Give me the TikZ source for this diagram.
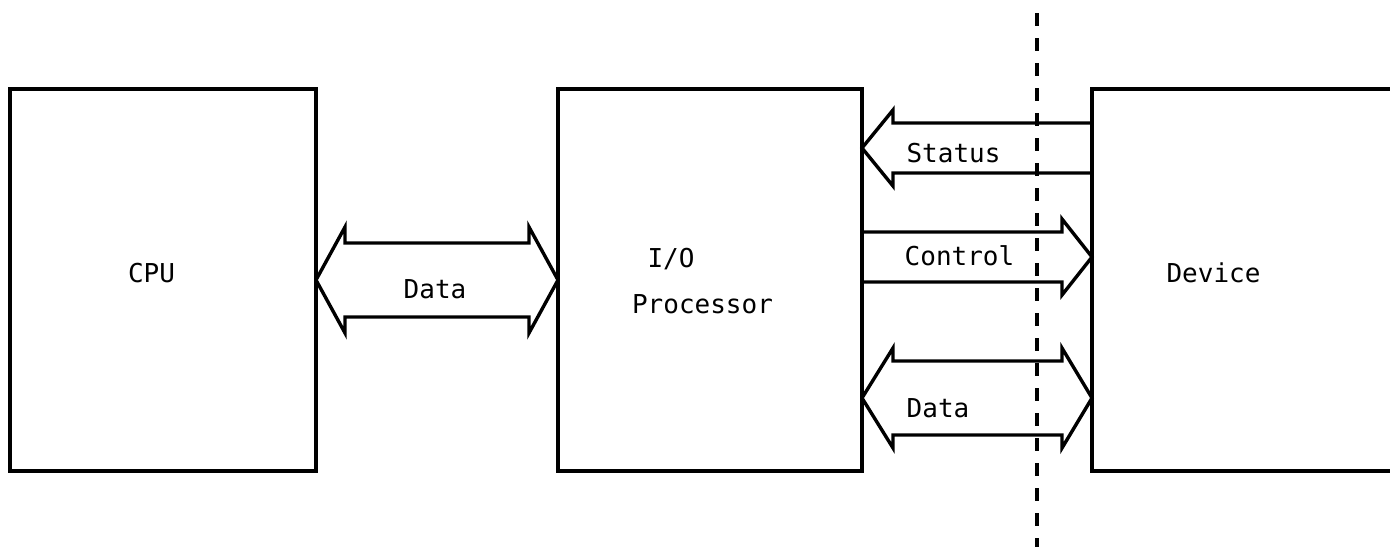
\documentclass[tikz,border=0pt]{standalone}
\usepackage{fontspec}
\newfontfamily\plotfont{DejaVu Sans Mono}
\usetikzlibrary{positioning,calc}

\begin{document}
\begin{tikzpicture}[
    x=0.5pt, y=-0.5pt,
    box/.style={rectangle, draw, line width=1.9pt, minimum height=191pt,
                inner sep=0pt, outer sep=0pt},
    bus/.style={draw, line width=1.7pt, line join=miter},
    lbl/.style={anchor=base, inner sep=0pt,
                font=\plotfont\fontsize{13}{15}\selectfont},
    border/.style={line width=1.9pt, dash pattern=on 6.5pt off 6pt},
]
\useasboundingbox (0,0) rectangle (1390,547);
\clip (0,0) rectangle (1390,547);

\node[box, minimum width=153pt] (cpu) at (163,280) {};
\node[box, minimum width=152pt, right=121pt of cpu] (iop) {};
\node[box, minimum width=164pt, right=115pt of iop] (dev) {};

\node[lbl] (cpulbl) at (151.5,282) {CPU};
\node[lbl] (iolbl) at (671,267) {I/O};
\node[lbl] (proclbl) at (702.5,313) {Processor};
\node[lbl] (devlbl) at (1213.5,282) {Device};

% data bus between cpu and i/o processor
\draw[bus] (cpu.east) -- ++(29,-53) |- ($(iop.west)+(-29,-37)$) -- ++(0,-16)
    -- (iop.west) -- ++(-29,53) |- ($(cpu.east)+(29,37)$) -- ++(0,16) -- cycle;
\node[lbl] (datalbl) at (435,298) {Data};

% status, control and data lines to the device
\coordinate (st) at ($(iop.east)+(0,-132)$);
\coordinate (ct) at ($(dev.west)+(0,-23)$);
\coordinate (dl) at ($(iop.east)+(0,118)$);
\coordinate (dr) at (dl -| dev.west);

\draw[bus] ($(st -| dev.west)+(0,-25)$) -| ($(st)+(31,-38)$) -- (st)
    -- ($(st)+(31,38)$) |- ($(st -| dev.west)+(0,25)$);
\draw[bus] ($(ct -| iop.east)+(0,-25)$) -| ($(ct)+(-30,-38)$) -- (ct)
    -- ($(ct)+(-30,38)$) |- ($(ct -| iop.east)+(0,25)$);
\draw[bus] (dl) -- ++(31,-50) |- ($(dr)+(-30,-37)$) -- ++(0,-13)
    -- (dr) -- ++(-30,50) |- ($(dl)+(31,37)$) -- ++(0,13) -- cycle;

\node[lbl] (stlbl) at (953.5,162) {Status};
\node[lbl] (ctllbl) at (959.5,265) {Control};
\node[lbl] (dlbl) at (938,417) {Data};

% interface boundary
\draw[border] (1037,13) -- (1037,547);
\end{tikzpicture}
\end{document}
